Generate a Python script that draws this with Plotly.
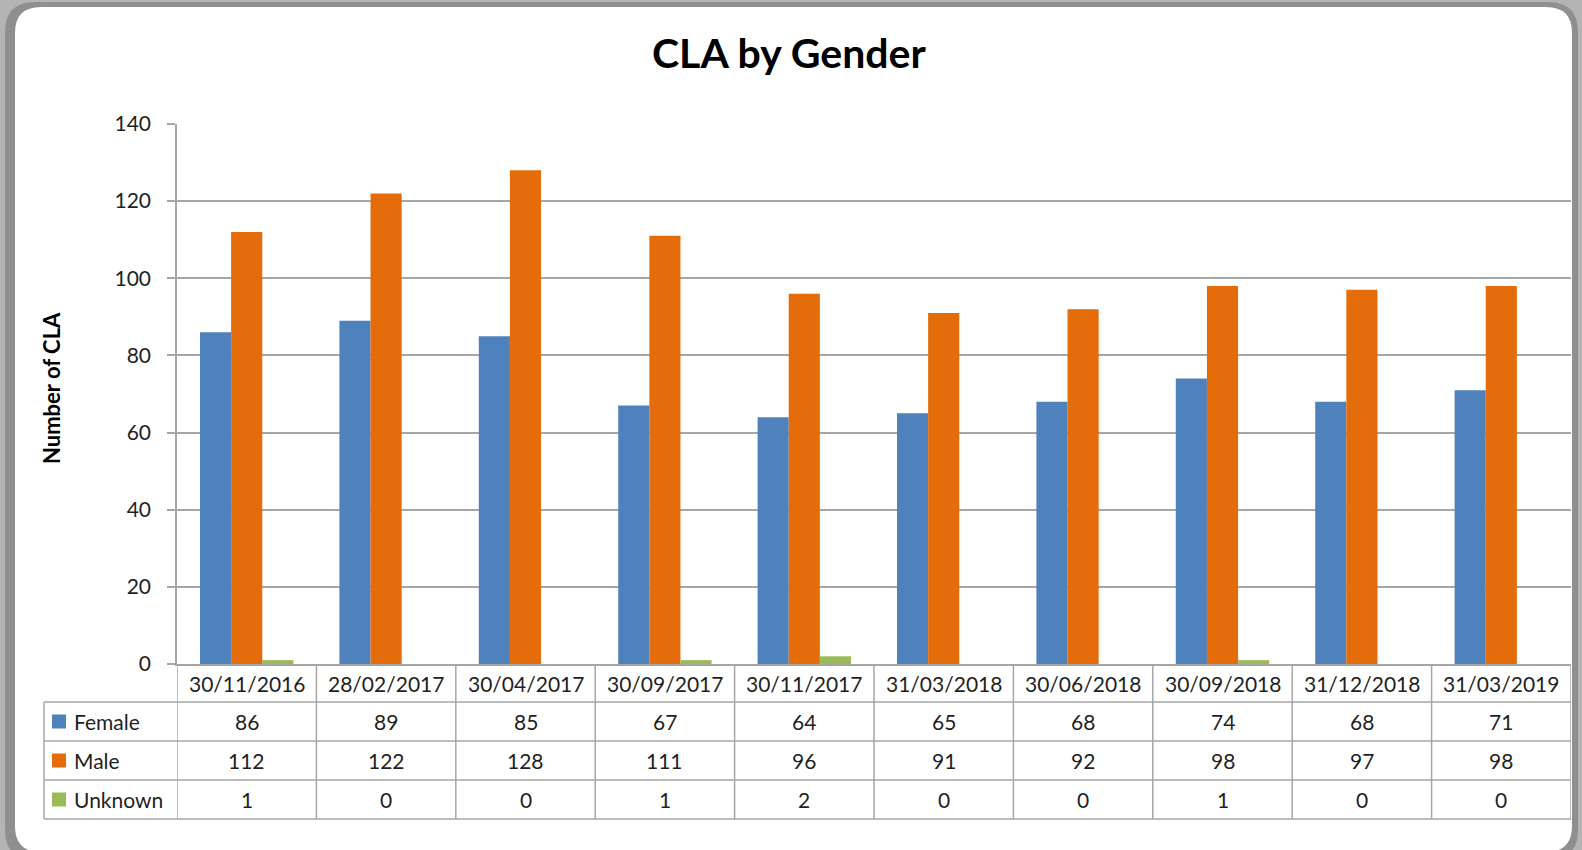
import plotly.graph_objects as go

dates = ["30/11/2016", "28/02/2017", "30/04/2017", "30/09/2017", "30/11/2017",
         "31/03/2018", "30/06/2018", "30/09/2018", "31/12/2018", "31/03/2019"]
female = [86, 89, 85, 67, 64, 65, 68, 74, 68, 71]
male = [112, 122, 128, 111, 96, 91, 92, 98, 97, 98]
unknown = [1, 0, 0, 1, 2, 0, 0, 1, 0, 0]
series_names = ["Female", "Male", "Unknown"]
series_colors = ["#4F81BD", "#E46C0A", "#9BBB59"]

W, H = 1582, 850
L, R, T, B = 177, 1571, 124, 664
FONT = "Lato"
GRID = "#a6a6a6"
TXT = "#1f1f1f"


def X(px):
    return (px - L) / (R - L)


def Y(py):
    return (B - py) / (B - T)


fig = go.Figure()
for name, vals, col in zip(series_names, [female, male, unknown], series_colors):
    fig.add_trace(go.Bar(x=dates, y=vals, name=name, marker=dict(color=col, line=dict(width=0))))

shapes = []


def rounded(x0, y0, x1, y1, r):
    return (f"M {X(x0 + r)} {Y(y0)} L {X(x1 - r)} {Y(y0)} Q {X(x1)} {Y(y0)} {X(x1)} {Y(y0 + r)} "
            f"L {X(x1)} {Y(y1 - r)} Q {X(x1)} {Y(y1)} {X(x1 - r)} {Y(y1)} "
            f"L {X(x0 + r)} {Y(y1)} Q {X(x0)} {Y(y1)} {X(x0)} {Y(y1 - r)} "
            f"L {X(x0)} {Y(y0 + r)} Q {X(x0)} {Y(y0)} {X(x0 + r)} {Y(y0)} Z")


shapes.append(dict(type="path", xref="paper", yref="paper", layer="below",
                   path=rounded(5, 2, 1578, 860, 30), fillcolor="#8f8f8f", line=dict(width=0)))
shapes.append(dict(type="path", xref="paper", yref="paper", layer="below",
                   path=rounded(15, 7, 1572, 852, 26), fillcolor="white", line=dict(width=0)))

rows_y = [664, 702, 741, 780, 819]
for py in rows_y[1:]:
    shapes.append(dict(type="line", xref="paper", yref="paper", x0=X(44), x1=X(R), y0=Y(py), y1=Y(py),
                       line=dict(color=GRID, width=1.5)))
shapes.append(dict(type="line", xref="paper", yref="paper", x0=X(44), x1=X(44), y0=Y(702), y1=Y(819),
                   line=dict(color=GRID, width=1.5)))
for i in range(len(dates) + 1):
    shapes.append(dict(type="line", xref="x", yref="paper", x0=i - 0.5, x1=i - 0.5, y0=Y(664), y1=Y(819),
                       line=dict(color=GRID, width=1.5)))

annotations = []
annotations.append(dict(text="<b>CLA by Gender</b>", xref="paper", yref="paper", x=X(789), y=Y(52),
                        showarrow=False, font=dict(family=FONT, size=41, color="#000"),
                        xanchor="center", yanchor="middle"))
annotations.append(dict(text="<b>Number of CLA</b>", xref="paper", yref="paper", x=X(51), y=Y(388),
                        showarrow=False, textangle=-90, font=dict(family=FONT, size=22, color="#000"),
                        xanchor="center", yanchor="middle"))
for i, d in enumerate(dates):
    annotations.append(dict(text=d, xref="x", yref="paper", x=i, y=Y(683), showarrow=False,
                            font=dict(family=FONT, size=21, color=TXT), xanchor="center", yanchor="middle"))
row_centers = [721.5, 760.5, 799.5]
for name, vals, col, cy in zip(series_names, [female, male, unknown], series_colors, row_centers):
    shapes.append(dict(type="rect", xref="paper", yref="paper", x0=X(52), x1=X(66), y0=Y(cy - 7), y1=Y(cy + 7),
                       fillcolor=col, line=dict(width=0)))
    annotations.append(dict(text=name, xref="paper", yref="paper", x=X(72), y=Y(cy), showarrow=False,
                            font=dict(family=FONT, size=21, color=TXT), xanchor="left", yanchor="middle"))
    for i, v in enumerate(vals):
        annotations.append(dict(text=str(v), xref="x", yref="paper", x=i, y=Y(cy), showarrow=False,
                                font=dict(family=FONT, size=21, color=TXT), xanchor="center", yanchor="middle"))

fig.update_layout(
    width=W, height=H,
    margin=dict(l=L, r=W - R, t=T, b=H - B, pad=0),
    paper_bgcolor="#b4b4b4", plot_bgcolor="rgba(0,0,0,0)",
    barmode="group", bargap=0.33, bargroupgap=0,
    showlegend=False,
    shapes=shapes, annotations=annotations,
    font=dict(family=FONT, color=TXT),
)
fig.update_xaxes(type="category", range=[-0.5, len(dates) - 0.5], showticklabels=False, ticks="",
                 showgrid=False, showline=True, linecolor=GRID, linewidth=1.5, zeroline=False)
fig.update_yaxes(range=[0, 140], dtick=20, showgrid=True, gridcolor=GRID, gridwidth=1.5,
                 showline=True, linecolor=GRID, linewidth=1.5, ticks="outside", ticklen=8, tickcolor=GRID,
                 tickwidth=1.5, tickfont=dict(family=FONT, size=21, color=TXT), ticklabelstandoff=12,
                 zeroline=False)

fig.write_html("out.html", config={"displayModeBar": False},
               post_script="document.body.style.margin='0';document.body.style.overflow='hidden';")
